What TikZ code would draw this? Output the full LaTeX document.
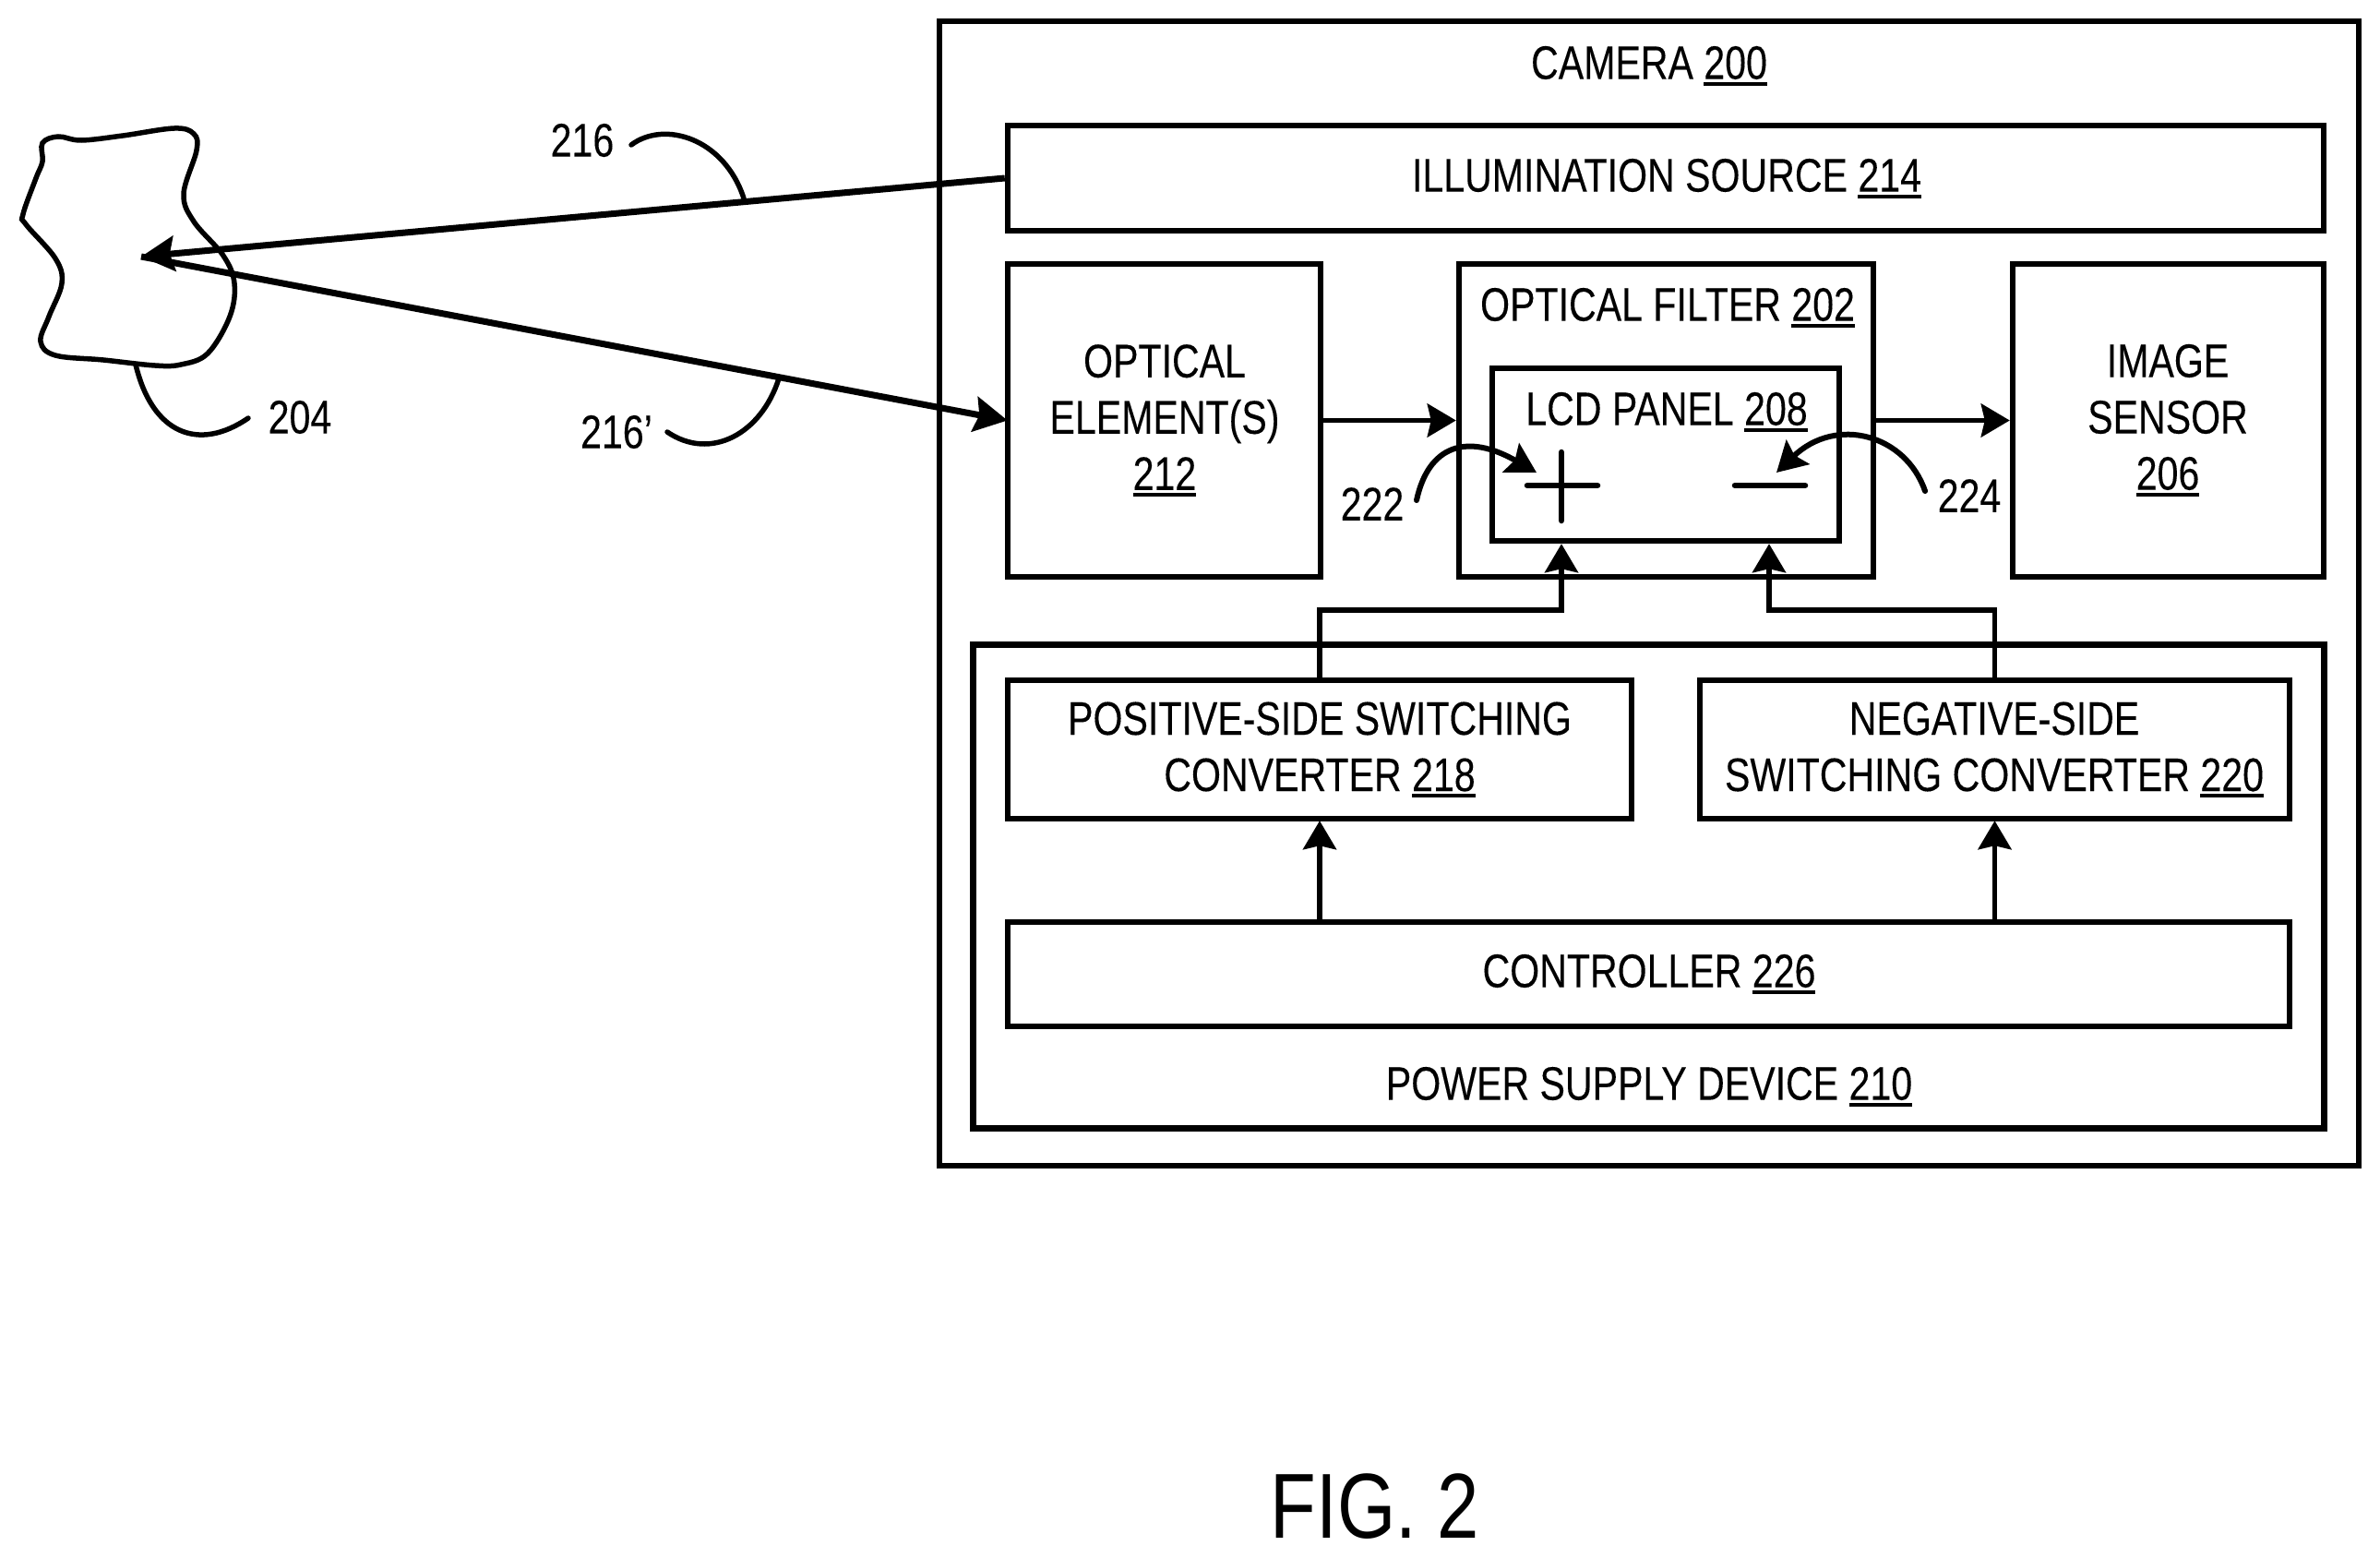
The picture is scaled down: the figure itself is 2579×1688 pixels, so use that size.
\documentclass[tikz,border=0pt]{standalone}
\usepackage{fontspec}
\setmainfont{Liberation Sans}[FakeStretch=0.806,FakeBold=0.15]
\newfontfamily\figfont{Liberation Sans}[FakeStretch=0.814]
\usetikzlibrary{arrows.meta}
\newcommand\ulnum[1]{\setbox0=\hbox{#1}\rlap{\smash{\rule[-7pt]{\wd0}{4pt}}}\box0}
\tikzset{
  box/.style={draw=black,line width=6.5pt,inner sep=0pt},
  txt/.style={inner sep=0pt,align=center,font=\fontsize{51}{61}\selectfont},
  conn/.style={line width=5.5pt,-{Stealth[length=31pt,width=36pt,inset=4pt]}},
  ray/.style={line width=7pt,-{Stealth[length=36pt,width=38pt,inset=5pt]}},
  curvedarrow/.style={line width=6pt,line cap=round,-{Stealth[length=32pt,width=36pt,inset=5pt]}},
  leader/.style={line width=5.5pt,line cap=round},
  sign/.style={line width=6.5pt,line cap=round},
}
\begin{document}
\begin{tikzpicture}[x=1pt,y=-1pt]
\useasboundingbox (0,0) rectangle (2579,1688);
% boxes
\node[box,minimum width=1538pt,minimum height=1240pt] (b200) at (1787,643) {};
\node[box,minimum width=1426pt,minimum height=114pt] (b214) at (1805,193) {};
\node[box,minimum width=339pt,minimum height=339pt] (b212) at (1261.5,455.5) {};
\node[box,minimum width=449pt,minimum height=339pt] (b202) at (1805.5,455.5) {};
\node[box,minimum width=376pt,minimum height=187pt] (b208) at (1805,492.5) {};
\node[box,minimum width=337pt,minimum height=339pt] (b206) at (2349.5,455.5) {};
\node[box,minimum width=1464pt,minimum height=524pt] (b210) at (1786.5,960.5) {};
\node[box,minimum width=676pt,minimum height=150pt] (b218) at (1430,812) {};
\node[box,minimum width=639pt,minimum height=150pt] (b220) at (2161.5,812) {};
\node[box,minimum width=1389pt,minimum height=113pt] (b226) at (1786.5,1055.5) {};
% box texts
\node[txt] (t200) at (1787,68) {CAMERA \ulnum{200}};
\node[txt] (t214) at (1806,190) {ILLUMINATION SOURCE \ulnum{214}};
\node[txt] (t212) at (1262,452) {OPTICAL\\ELEMENT(S)\\\ulnum{212}};
\node[txt] (t202) at (1807,330) {OPTICAL FILTER \ulnum{202}};
\node[txt] (t208) at (1806,443) {LCD PANEL \ulnum{208}};
\node[txt] (t206) at (2349,452) {IMAGE\\SENSOR\\\ulnum{206}};
\node[txt] (t218) at (1430,809) {POSITIVE-SIDE SWITCHING\\CONVERTER \ulnum{218}};
\node[txt] (t220) at (2161,809) {NEGATIVE-SIDE\\SWITCHING CONVERTER \ulnum{220}};
\node[txt] (t226) at (1787,1052) {CONTROLLER \ulnum{226}};
\node[txt] (t210) at (1787,1174) {POWER SUPPLY DEVICE \ulnum{210}};
% free labels
\node[txt] (l216) at (631,152) {216};
\node[txt] (l216p) at (668,468) {216\symbol{39}};
\node[txt] (l204) at (325,452) {204};
\node[txt] (l222) at (1487,546) {222};
\node[txt] (l224) at (2134,537) {224};
\node[inner sep=0pt,font=\fontsize{100}{110}\figfont] (fig) at (1490,1632) {FIG. 2};
% object
\draw[line width=5.5pt] plot[smooth cycle,tension=0.6] coordinates {
 (46,155) (63,148) (88,152) (133,147) (189,139) (210,145) (213,163) (199,210)
 (210,240) (242,277) (254,307) (249,343) (225,383) (196,395) (168,396) (112,390)
 (60,385) (44,370) (53,343) (67,307) (60,280) (28,243) (25,232) (39,193) (46,175)};
\coordinate (obj) at (153,278);
% rays
\draw[ray] (b214.west) -- (obj);
\draw[ray] (obj) -- ([xshift=3pt]b212.west);
% connectors
\coordinate (e1) at (1692,661);
\coordinate (e2) at (1917,661);
\draw[conn] (b212.east) -- (b202.west);
\draw[conn] (b202.east) -- (b206.west);
\draw[conn] (b218.north) |- (e1) -- (e1 |- b208.south);
\draw[conn] (b220.north) |- (e2) -- (e2 |- b208.south);
\draw[conn] (b218.south |- b226.north) -- ([yshift=1pt]b218.south);
\draw[conn] (b220.south |- b226.north) -- ([yshift=1pt]b220.south);
% plus and minus
\draw[sign] (1655,526) -- (1731,526);
\draw[sign] (1692,490) -- (1692,564);
\draw[sign] (1880,526) -- (1956,526);
% curved arrows
\draw[curvedarrow] (1535,542) .. controls (1548,482) and (1590,469) .. (1665,512);
\draw[curvedarrow] (2086,532) .. controls (2065,471) and (1990,450) .. (1925,512);
% leaders
\draw[leader] (684,157) .. controls (720,130) and (785,150) .. (806,215);
\draw[leader] (723,468) .. controls (770,500) and (825,470) .. (844,410);
\draw[leader] (147,395) .. controls (165,470) and (215,490) .. (269,453);
\end{tikzpicture}
\end{document}
